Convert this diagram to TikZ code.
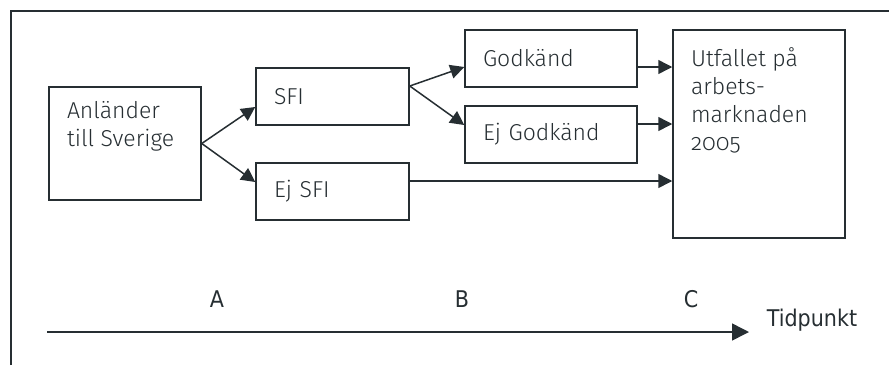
\documentclass[tikz,border=0pt]{standalone}
\usepackage{fontspec}
\setmainfont{Fira Sans Light}[Numbers=OldStyle]
\newfontfamily\axisfont{DejaVu Sans Condensed}
\usetikzlibrary{arrows.meta}
\definecolor{ink}{RGB}{38,46,50}
\begin{document}
\begin{tikzpicture}[x=0.5pt,y=-0.5pt,line width=0.75pt,color=ink,
	every node/.style={font=\fontsize{11.5}{14}\selectfont},
	box/.style={draw,rectangle,inner xsep=9pt,inner ysep=0pt,align=left},
	arr/.style={-{Triangle[length=7pt,width=7pt]}},
	timelabel/.style={font=\axisfont\fontsize{11.5}{13}\selectfont,anchor=base}]
\useasboundingbox (0,0) rectangle (889,365);
\draw[line width=1pt] (11,365) -- (11,11) -- (889,11);
\node[box,inner ysep=7pt] (anl) at (125,143.5)
	{\parbox[c][42.5pt][t]{58pt}{Anländer\\till Sverige}};
\node[box,text width=58.5pt,minimum height=28.5pt] (sfi) at (332.5,96.5) {SFI};
\node[box,text width=58.5pt,minimum height=28.5pt] (ejsfi) at (332.5,191.5) {Ej SFI};
\node[box,text width=68pt,minimum height=28.5pt] (godk) at (551,58.5) {Godkänd};
\node[box,text width=68pt,minimum height=28.5pt] (ejgodk) at (551,134.5) {Ej Godkänd};
\node[box,inner ysep=9pt] (utf) at (759,134)
	{\parbox[c][86pt][t]{68pt}{Utfallet på\\arbets-\\marknaden\\2005}};
\draw[arr] (anl.east) -- ([yshift=-5.25pt]sfi.west);
\draw[arr] (anl.east) -- ([yshift=4.75pt]ejsfi.west);
\draw[arr] ([yshift=5.25pt]sfi.east) -- ([yshift=-4.25pt]godk.west);
\draw[arr] ([yshift=5.25pt]sfi.east) -- ([yshift=4.75pt]ejgodk.west);
\draw[arr] ([yshift=-4.25pt]godk.east) -- ([yshift=-4.25pt]godk.east -| utf.west);
\draw[arr] ([yshift=5.25pt]ejgodk.east) -- ([yshift=5.25pt]ejgodk.east -| utf.west);
\draw[arr] ([yshift=5.25pt]ejsfi.east) -- ([yshift=5.25pt]ejsfi.east -| utf.west);
% tidsaxel
\coordinate (t0) at (47,332);
\coordinate (t1) at (749,332);
\draw[-{Triangle[length=8.5pt,width=8.5pt]}] (t0) -- (t1);
\node[timelabel] (ta) at (217,307) {A};
\node[timelabel] (tb) at (462,307) {B};
\node[timelabel] (tc) at (691,307) {C};
\node[timelabel] (tid) at (812,326) {Tidpunkt};
\end{tikzpicture}
\end{document}
